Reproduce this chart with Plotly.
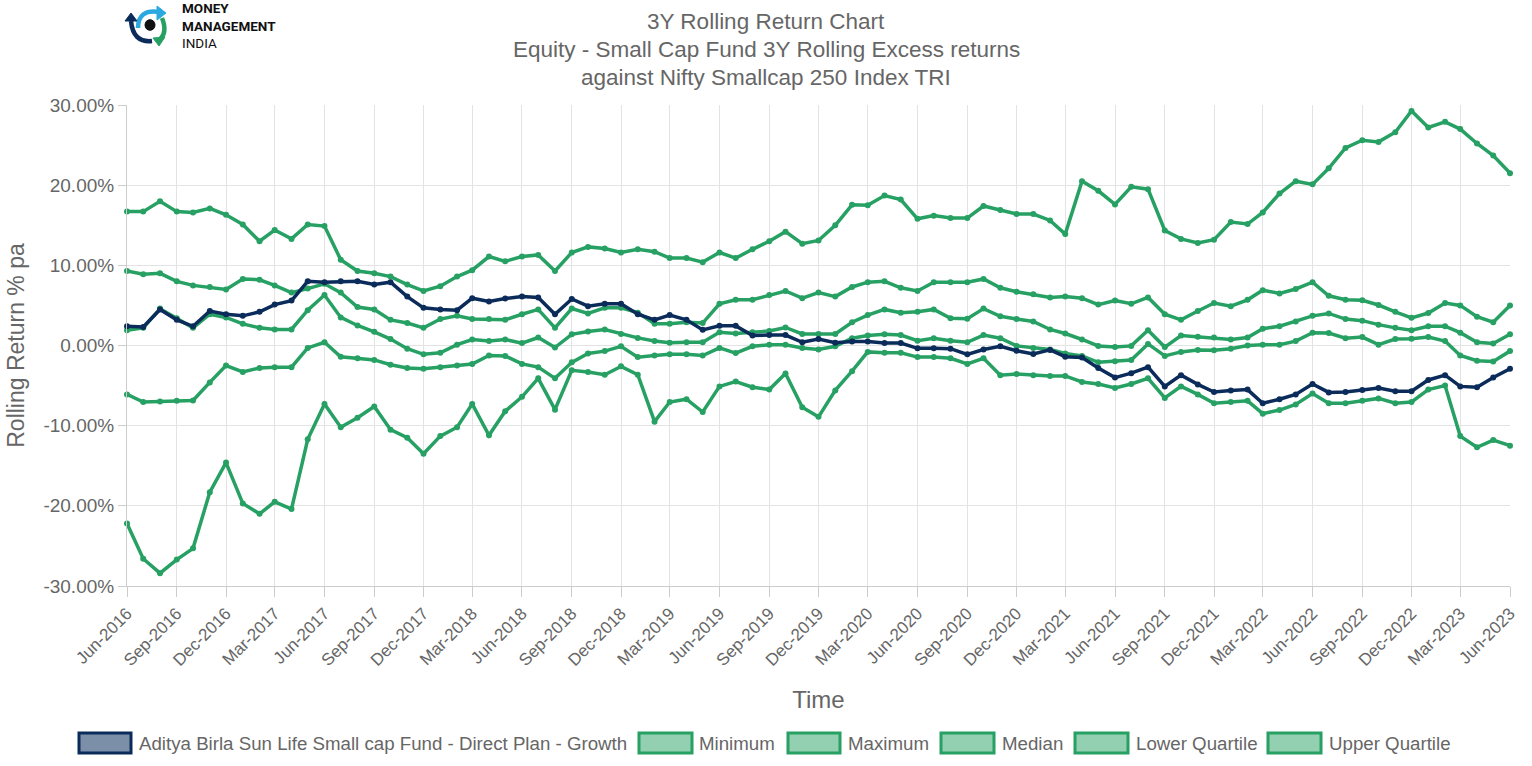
import plotly.graph_objects as go
import pandas as pd

# ---------------- data ----------------
months = pd.date_range("2016-06-01", "2023-06-01", freq="MS")

fund = [2.4, 2.3, 4.5, 3.2, 2.4, 4.3, 3.9, 3.7, 4.2, 5.1, 5.6, 8.0, 7.9, 8.0, 8.0, 7.6, 7.9, 6.1, 4.7, 4.5,
        4.4, 5.9, 5.5, 5.85, 6.1, 6.0, 3.9, 5.8, 4.9, 5.2, 5.2, 3.9, 3.2, 3.8, 3.2, 1.95, 2.45, 2.45, 1.25, 1.3,
        1.3, 0.4, 0.8, 0.35, 0.5, 0.5, 0.3, 0.3, -0.35, -0.35, -0.4, -1.1, -0.5, -0.1, -0.65, -1.05, -0.55, -1.4,
        -1.5, -2.8, -4.0, -3.45, -2.7, -5.1, -3.7, -4.85, -5.8, -5.6, -5.5, -7.2, -6.7, -6.1, -4.8, -5.85, -5.8,
        -5.55, -5.3, -5.7, -5.7, -4.3, -3.7, -5.1, -5.2, -4.0, -2.9]

minimum = [-22.2, -26.6, -28.4, -26.7, -25.3, -18.3, -14.6, -19.7, -21.0, -19.5, -20.4, -11.7, -7.3, -10.2, -9.0,
           -7.6, -10.5, -11.5, -13.5, -11.3, -10.2, -7.3, -11.2, -8.2, -6.4, -4.1, -8.0, -3.1, -3.3, -3.65, -2.6,
           -3.65, -9.5, -7.05, -6.7, -8.3, -5.1, -4.5, -5.2, -5.5, -3.5, -7.7, -8.9, -5.6, -3.2, -0.8, -0.9, -0.9,
           -1.45, -1.45, -1.6, -2.3, -1.6, -3.7, -3.55, -3.7, -3.8, -3.8, -4.55, -4.8, -5.3, -4.8, -4.1, -6.55,
           -5.1, -6.1, -7.2, -7.05, -6.9, -8.5, -8.05, -7.35, -6.0, -7.2, -7.2, -6.9, -6.6, -7.2, -7.05, -5.5,
           -5.0, -11.3, -12.7, -11.8, -12.5]

maximum = [16.7, 16.7, 18.0, 16.7, 16.6, 17.1, 16.3, 15.1, 13.0, 14.4, 13.3, 15.1, 14.9, 10.7, 9.3, 9.0, 8.6,
           7.6, 6.8, 7.4, 8.6, 9.4, 11.1, 10.5, 11.1, 11.3, 9.3, 11.6, 12.3, 12.1, 11.6, 12.0, 11.7, 10.9, 10.9,
           10.4, 11.6, 10.9, 12.0, 13.0, 14.2, 12.7, 13.1, 15.0, 17.55, 17.5, 18.7, 18.2, 15.8, 16.2, 15.9, 15.9,
           17.4, 16.9, 16.4, 16.4, 15.6, 13.9, 20.5, 19.3, 17.6, 19.8, 19.5, 14.35, 13.3, 12.8, 13.2, 15.4, 15.15,
           16.6, 18.95, 20.5, 20.1, 22.1, 24.65, 25.6, 25.4, 26.6, 29.25, 27.2, 27.9, 27.0, 25.2, 23.7, 21.5]

median = [1.9, 2.2, 4.6, 3.4, 2.2, 3.9, 3.5, 2.7, 2.2, 2.0, 2.0, 4.4, 6.3, 3.5, 2.5, 1.7, 0.8, -0.4, -1.1, -0.9,
          0.1, 0.75, 0.55, 0.75, 0.3, 1.0, -0.25, 1.4, 1.75, 2.0, 1.45, 0.95, 0.55, 0.35, 0.4, 0.4, 1.65, 1.5,
          1.65, 1.8, 2.25, 1.45, 1.45, 1.45, 2.9, 3.8, 4.5, 4.1, 4.2, 4.5, 3.4, 3.35, 4.6, 3.65, 3.3, 3.0, 2.0,
          1.5, 0.75, -0.05, -0.2, -0.05, 1.9, -0.2, 1.25, 1.1, 1.0, 0.75, 1.0, 2.1, 2.4, 3.0, 3.7, 4.0, 3.3, 3.1,
          2.6, 2.2, 1.9, 2.4, 2.4, 1.6, 0.4, 0.25, 1.4]

lower_q = [-6.1, -7.05, -7.0, -6.9, -6.85, -4.6, -2.5, -3.3, -2.8, -2.7, -2.7, -0.3, 0.4, -1.4, -1.6, -1.8, -2.4,
           -2.8, -2.9, -2.7, -2.5, -2.3, -1.25, -1.3, -2.3, -2.7, -4.1, -2.1, -1.0, -0.7, -0.1, -1.45, -1.25,
           -1.1, -1.1, -1.25, -0.3, -0.95, -0.1, 0.1, 0.1, -0.3, -0.5, -0.1, 0.9, 1.25, 1.4, 1.3, 0.6, 0.9, 0.6,
           0.4, 1.3, 0.9, -0.05, -0.3, -0.5, -1.0, -1.3, -2.1, -1.95, -1.8, 0.2, -1.3, -0.8, -0.55, -0.6, -0.4,
           0.0, 0.1, 0.1, 0.55, 1.6, 1.55, 0.9, 1.05, 0.1, 0.8, 0.85, 1.05, 0.55, -1.25, -1.9, -2.0, -0.7]

upper_q = [9.3, 8.9, 9.0, 8.0, 7.5, 7.3, 7.0, 8.3, 8.2, 7.5, 6.6, 7.1, 7.7, 6.6, 4.8, 4.5, 3.2, 2.8, 2.2, 3.3,
           3.7, 3.3, 3.3, 3.2, 3.9, 4.5, 2.2, 4.6, 4.0, 4.7, 4.7, 4.1, 2.7, 2.7, 2.9, 2.8, 5.2, 5.7, 5.7, 6.3,
           6.8, 5.9, 6.6, 6.1, 7.3, 7.9, 8.0, 7.2, 6.8, 7.9, 7.9, 7.9, 8.3, 7.2, 6.7, 6.4, 6.0, 6.1, 5.9, 5.1,
           5.6, 5.2, 6.0, 3.9, 3.2, 4.3, 5.3, 4.9, 5.7, 6.9, 6.5, 7.05, 7.9, 6.2, 5.7, 5.65, 5.05, 4.2, 3.45,
           4.05, 5.3, 5.0, 3.6, 2.9, 5.0]

y_ticks = [-30, -20, -10, 0, 10, 20, 30]
y_tick_text = ["-30.00%", "-20.00%", "-10.00%", "0.00%", "10.00%", "20.00%", "30.00%"]
x_tick_vals = list(months[::3])
x_tick_text = [d.strftime("%b-%Y") for d in x_tick_vals]

title_lines = ["3Y Rolling Return Chart",
               "Equity - Small Cap Fund 3Y Rolling Excess returns",
               "against Nifty Smallcap 250 Index TRI"]

fund_name = "Aditya Birla Sun Life Small cap Fund - Direct Plan - Growth"
green_series = [("Minimum", minimum), ("Maximum", maximum), ("Median", median),
                ("Lower Quartile", lower_q), ("Upper Quartile", upper_q)]

# ---------------- styles ----------------
NAVY = "#0b2c5a"
GREEN = "#27a063"
NAVY_FILL = "#7b8fa8"
GREEN_FILL = "#93d0b1"
GREY = "#666666"
FONT = "Liberation Sans, Arial, sans-serif"

W, H = 1532, 766
L, R, T, B = 127, 22, 105, 180
PW, PH = W - L - R, H - T - B


def px2x(px):  # page pixel -> paper x
    return (px - L) / PW


def px2y(py):  # page pixel -> paper y
    return (H - B - py) / PH


fig = go.Figure()
for name, vals in green_series:
    fig.add_trace(go.Scatter(x=months, y=vals, mode="lines+markers", name=name,
                             line=dict(color=GREEN, width=3.5),
                             marker=dict(color=GREEN, size=6),
                             cliponaxis=False, showlegend=False))
fig.add_trace(go.Scatter(x=months, y=fund, mode="lines+markers", name=fund_name,
                         line=dict(color=NAVY, width=3.5),
                         marker=dict(color=NAVY, size=6),
                         cliponaxis=False, showlegend=False))

shapes = []
annotations = []

# ---------------- title ----------------
for txt, yc in zip(title_lines, [22, 50, 77]):
    annotations.append(dict(text=txt, xref="paper", yref="paper", x=px2x(766), y=px2y(yc),
                            xanchor="center", yanchor="middle", showarrow=False,
                            font=dict(size=22.5, color=GREY, family=FONT)))

# ---------------- manual legend ----------------
legend_items = [
    (fund_name, NAVY, NAVY_FILL, 79, 131, 137),
    ("Minimum", GREEN, GREEN_FILL, 639, 692, 697),
    ("Maximum", GREEN, GREEN_FILL, 788, 840, 846),
    ("Median", GREEN, GREEN_FILL, 941, 994, 1000),
    ("Lower Quartile", GREEN, GREEN_FILL, 1075, 1128, 1134),
    ("Upper Quartile", GREEN, GREEN_FILL, 1268, 1321, 1327),
]
for text, lc, fc, bx0, bx1, tx in legend_items:
    shapes.append(dict(type="rect", xref="paper", yref="paper",
                       x0=px2x(bx0), x1=px2x(bx1), y0=px2y(753), y1=px2y(733),
                       line=dict(color=lc, width=3), fillcolor=fc, layer="above"))
    annotations.append(dict(text=text, xref="paper", yref="paper", x=px2x(tx), y=px2y(743),
                            xanchor="left", yanchor="middle", showarrow=False,
                            font=dict(size=18.7, color=GREY, family=FONT)))

# ---------------- logo ----------------
cx, cy = px2x(150), px2y(25)


def logo_path(path, color, fill=None, width=4.5):
    d = dict(type="path", xref="paper", yref="paper", xsizemode="pixel", ysizemode="pixel",
             xanchor=cx, yanchor=cy, path=path, line=dict(color=color, width=width))
    if fill:
        d["fillcolor"] = fill
        d["line"] = dict(color=color, width=1)
    return d


shapes += [
    logo_path("M -12,-3 Q -12,16 9,13", "#29a9df"),
    logo_path("M 7,19 L 16,12 L 7,5 Z", "#29a9df", fill="#29a9df"),
    logo_path("M -19,4 Q -17,-18 2,-16", "#0b2c5a"),
    logo_path("M -25,4 L -19,12 L -13,4 Z", "#0b2c5a", fill="#0b2c5a"),
    logo_path("M 12,7 Q 18,-8 9,-15", "#27a063"),
    logo_path("M 3,-13 L 9,-21 L 15,-12 Z", "#27a063", fill="#27a063"),
    logo_path("M -5,0 C -5,-7 5,-7 5,0 C 5,7 -5,7 -5,0 Z", "#111111", fill="#111111"),
]
annotations.append(dict(text="<b>MONEY</b><br><b>MANAGEMENT</b><br>INDIA", xref="paper", yref="paper",
                        x=px2x(180), y=px2y(26), xanchor="left", yanchor="middle", align="left",
                        showarrow=False,
                        font=dict(size=13.5, color="#111111", family="Roboto, Arial, sans-serif")))

fig.update_layout(
    width=W, height=H,
    margin=dict(l=L, r=R, t=T, b=B, autoexpand=False),
    paper_bgcolor="white", plot_bgcolor="white",
    font=dict(family=FONT, color=GREY),
    showlegend=False,
    shapes=shapes,
    annotations=annotations,
)
fig.update_xaxes(
    type="date", range=[months[0], months[-1]],
    tickvals=x_tick_vals, ticktext=x_tick_text, tickangle=-45,
    tickfont=dict(size=17, color=GREY),
    showgrid=True, gridcolor="#e3e3e3", gridwidth=1,
    showline=True, linecolor="#cccccc", linewidth=1,
    ticks="outside", ticklen=10, tickcolor="#cccccc",
    title=dict(text="Time", font=dict(size=24, color=GREY), standoff=22),
    zeroline=False, automargin=False,
)
fig.update_yaxes(
    range=[-30, 30], tickvals=y_ticks, ticktext=y_tick_text,
    tickfont=dict(size=19, color=GREY),
    showgrid=True, gridcolor="#e3e3e3", gridwidth=1,
    showline=True, linecolor="#cccccc", linewidth=1,
    ticks="outside", ticklen=8, tickcolor="#cccccc",
    title=dict(text="Rolling Return % pa", font=dict(size=23, color=GREY), standoff=12),
    zeroline=False, automargin=False,
)

fig.write_html("out.html", config={"displayModeBar": False},
               post_script="document.body.style.margin='0';document.body.style.overflow='hidden';")
